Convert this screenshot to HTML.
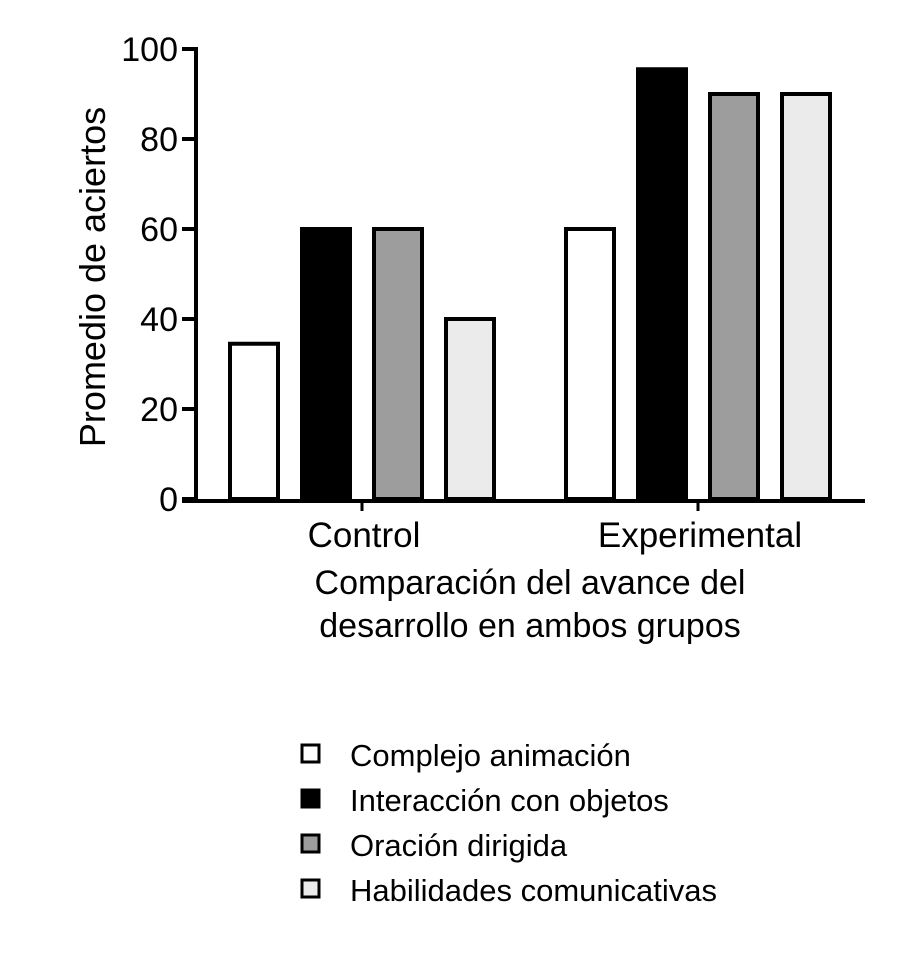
<!DOCTYPE html>
<html><head><meta charset="utf-8"><style>
body{margin:0;background:#fff;}
svg text{font-family:"Liberation Sans",sans-serif;fill:#000;}
</style></head><body>
<svg width="900" height="954" viewBox="0 0 900 954">
<g id="plot"></g>
<script>
const categories=["Control","Experimental"];
const seriesNames=["Complejo animación","Interacción con objetos","Oración dirigida","Habilidades comunicativas"];
const seriesFills=["#ffffff","#000000","#9d9d9d","#ebebeb"];
const valsComplejo=[34.5,60];
const valsInteraccion=[60,95.5];
const valsOracion=[60,90];
const valsHabilidades=[40,90];
const yTicks=[0,20,40,60,80,100];
const series=[valsComplejo,valsInteraccion,valsOracion,valsHabilidades];
const NS="http://www.w3.org/2000/svg";
const g=document.getElementById('plot');
const y0=499,y100=49,xL=196,xR=865;
const yS=v=>y0-(v/100)*(y0-y100);
const catC=[362,698];
const barW=48,step=72;
const xS=(ci,si)=>catC[ci]+(si-1.5)*step-barW/2;
function mk(t,a){const e=document.createElementNS(NS,t);for(const k in a)e.setAttribute(k,a[k]);g.appendChild(e);return e;}
series.forEach((vals,si)=>{vals.forEach((v,ci)=>{
 const r=mk('rect',{x:xS(ci,si),y:yS(v),width:barW,height:y0-yS(v),fill:seriesFills[si],stroke:'#000','stroke-width':4});
 
 
});});
const ya=mk('line',{x1:xL,y1:y100-2,x2:xL,y2:y0,stroke:'#000','stroke-width':4});


const xa=mk('line',{x1:xL-14,y1:y0+2,x2:xR,y2:y0+2,stroke:'#000','stroke-width':4});


yTicks.forEach(t=>{
 const l=mk('line',{x1:xL-14,y1:yS(t),x2:xL,y2:yS(t),stroke:'#000','stroke-width':4});
 
 
 const tx=mk('text',{x:xL-18,y:yS(t)+12,'text-anchor':'end','font-size':34});
 tx.textContent=t;
 
 
});
categories.forEach((c,ci)=>{
 const l=mk('line',{x1:catC[ci],y1:y0,x2:catC[ci],y2:y0+12,stroke:'#000','stroke-width':3});
 
 
 const tx=mk('text',{x:catC[ci]+2,y:547,'text-anchor':'middle','font-size':35});
 tx.textContent=c;
 
 
});
seriesNames.forEach((n,si)=>{
 const yy=757+si*45;
 const r=mk('rect',{x:302,y:yy-12,width:17,height:17,fill:seriesFills[si],stroke:'#000','stroke-width':3});
 
 
 const tx=mk('text',{x:350,y:yy+9,'font-size':31});
 tx.textContent=n;
 
 
});
</script>
<text x="105" y="277" transform="rotate(-90 105 277)" text-anchor="middle" font-size="36">Promedio de aciertos</text>
<text x="530" y="594" text-anchor="middle" font-size="34">Comparación del avance del</text>
<text x="530" y="637" text-anchor="middle" font-size="34">desarrollo en ambos grupos</text>
</svg>
</body></html>
